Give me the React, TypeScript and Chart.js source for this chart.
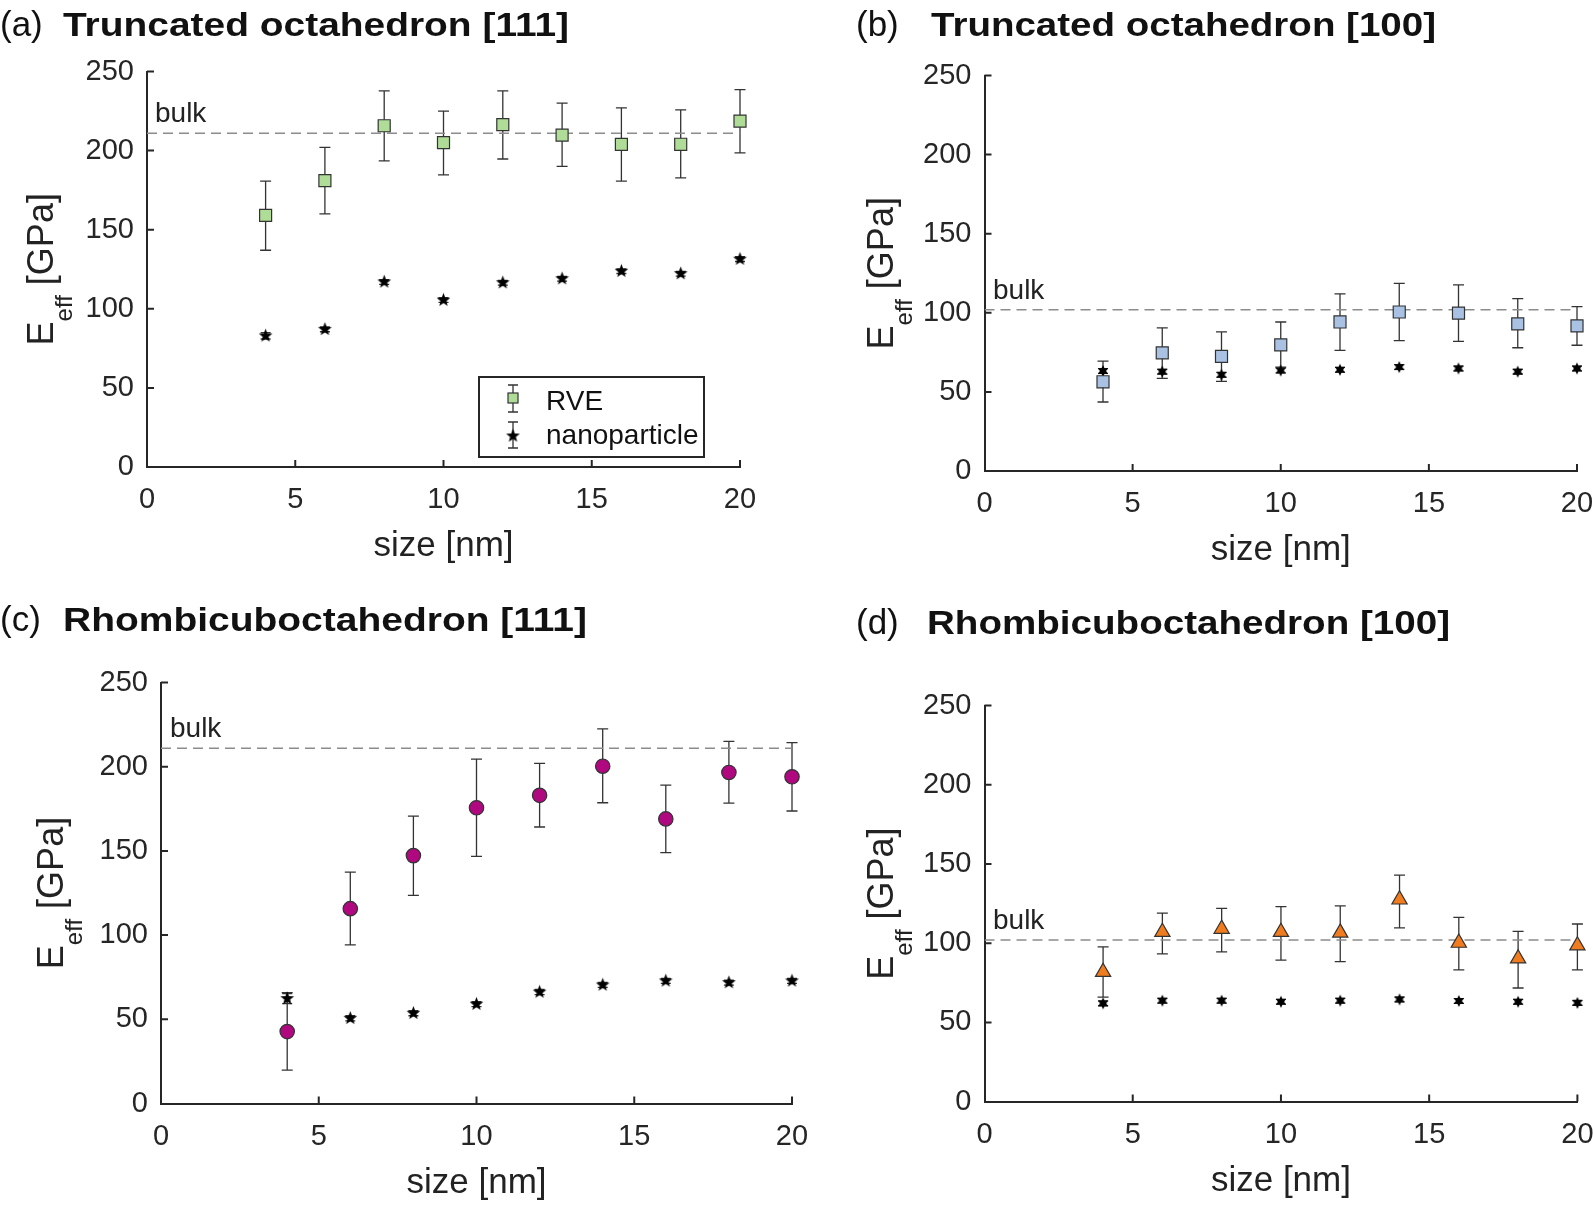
import React, { useEffect, useRef } from "react";
import { Chart, registerables } from "chart.js";

Chart.register(...registerables);

// ---------- data ----------
const sizes = [4, 6, 8, 10, 12, 14, 16, 18, 20];
const xTicks = [0, 5, 10, 15, 20];
const yTicks = [0, 50, 100, 150, 200, 250];

// (a) Truncated octahedron [111]
const aRve = [159, 181, 215.7, 205, 216.4, 209.8, 203.9, 204, 218.6];
const aRveHi = [180.7, 202, 237.8, 225, 237.8, 230, 227, 225.8, 238.5];
const aRveLo = [137, 160, 193.5, 184.7, 194.7, 190, 180.7, 182.7, 198.5];
const aNano = [82.9, 87, 117, 105.5, 116.5, 119, 123.8, 122.2, 131.4];
const aNanoErr = [2, 1.5, 1.5, 1.5, 1.5, 1.5, 1.5, 1.5, 1.5];
const aBulk = 211;

// (b) Truncated octahedron [100]
const bRve = [56.4, 74.7, 72.5, 79.7, 94.2, 100.5, 99.8, 93, 91.7];
const bRveHi = [69.5, 90.5, 88, 94.2, 112, 118.6, 117.7, 108.9, 103.9];
const bRveLo = [43.6, 58.6, 56.7, 65.7, 76.3, 82.4, 82, 77.9, 79.5];
const bNano = [63.2, 62.8, 60.8, 63.5, 64, 65.7, 64.8, 62.8, 64.8];
const bNanoErr = [1.5, 1.5, 1.5, 1.5, 1.5, 1.5, 1.5, 1.5, 1.5];
const bBulk = 102;

// (c) Rhombicuboctahedron [111]
const cRve = [42.7, 115.7, 147.2, 175.6, 183, 200.3, 169, 196.6, 194];
const cRveHi = [65.8, 137.4, 170.7, 204.5, 202, 222.5, 189, 215, 214.3];
const cRveLo = [19.8, 94.2, 123.6, 146.7, 164.2, 178.6, 149, 178.4, 173.7];
const cNano = [62.3, 50.6, 53.6, 59, 66.2, 70.4, 72.8, 71.8, 72.8];
const cNanoErr = [3, 1.5, 1.5, 1.5, 1.5, 1.5, 1.5, 1.5, 1.5];
const cBulk = 211;

// (d) Rhombicuboctahedron [100]
const dRve = [81.8, 107, 109, 107, 106.6, 127.5, 100.2, 90.3, 98.5];
const dRveHi = [97.7, 119, 122, 123, 123.5, 142.9, 116.3, 107.4, 112.1];
const dRveLo = [66, 93.3, 94.5, 89.3, 88.3, 109.6, 83.1, 71.7, 83.1];
const dNano = [62, 63.7, 63.7, 63, 63.7, 64.5, 63.5, 63, 62.3];
const dNanoErr = [1.5, 1.5, 1.5, 1.5, 1.5, 1.5, 1.5, 1.5, 1.5];
const dBulk = 102;

const legendLabels = ["RVE", "nanoparticle"];
const xTitle = "size [nm]";

// ---------- styling / layout ----------
const FONT = '"Liberation Sans", Arial, Helvetica, sans-serif';
const AXIS = "#262626";
const ERR = "#333333";

type Box = { left: number; top: number; width: number; height: number };
type Area = { left: number; top: number; right: number; bottom: number };

type Panel = {
  tag: string;
  title: string;
  rve: number[];
  rveHi: number[];
  rveLo: number[];
  nano: number[];
  nanoErr: number[];
  bulk: number;
  fill: string;
  marker: "rect" | "circle" | "triangle";
  radius: number;
  starPoints: number;
  legend: boolean;
  canvas: Box;
  area: Area; // absolute page coordinates
  tagX: number;
  titleX: number;
  titleW: number;
  titleBase: number;
  yTitleX: number;
  bulkX: number;
};

const panels: Panel[] = [
  {
    tag: "(a)", title: "Truncated octahedron [111]",
    rve: aRve, rveHi: aRveHi, rveLo: aRveLo, nano: aNano, nanoErr: aNanoErr, bulk: aBulk,
    fill: "#afdd98", marker: "rect", radius: 8.5, starPoints: 5, legend: true,
    canvas: { left: 0, top: 0, width: 796, height: 590 },
    area: { left: 147, top: 71.5, right: 740, bottom: 467 },
    tagX: 0, titleX: 63, titleW: 506, titleBase: 36, yTitleX: 53, bulkX: 155,
  },
  {
    tag: "(b)", title: "Truncated octahedron [100]",
    rve: bRve, rveHi: bRveHi, rveLo: bRveLo, nano: bNano, nanoErr: bNanoErr, bulk: bBulk,
    fill: "#a9c2e4", marker: "rect", radius: 8.5, starPoints: 6, legend: false,
    canvas: { left: 796, top: 0, width: 830, height: 590 },
    area: { left: 984.5, top: 75.5, right: 1577, bottom: 471 },
    tagX: 856, titleX: 931, titleW: 505, titleBase: 36, yTitleX: 893, bulkX: 993,
  },
  {
    tag: "(c)", title: "Rhombicuboctahedron [111]",
    rve: cRve, rveHi: cRveHi, rveLo: cRveLo, nano: cNano, nanoErr: cNanoErr, bulk: cBulk,
    fill: "#b0087f", marker: "circle", radius: 7.2, starPoints: 5, legend: false,
    canvas: { left: 0, top: 590, width: 840, height: 616 },
    area: { left: 161, top: 682.5, right: 792, bottom: 1103.5 },
    tagX: 0, titleX: 63, titleW: 524, titleBase: 631, yTitleX: 63, bulkX: 170,
  },
  {
    tag: "(d)", title: "Rhombicuboctahedron [100]",
    rve: dRve, rveHi: dRveHi, rveLo: dRveLo, nano: dNano, nanoErr: dNanoErr, bulk: dBulk,
    fill: "#f07c1e", marker: "triangle", radius: 8.8, starPoints: 6, legend: false,
    canvas: { left: 796, top: 590, width: 830, height: 616 },
    area: { left: 984.5, top: 705.5, right: 1577.4, bottom: 1101.6 },
    tagX: 856, titleX: 927, titleW: 523, titleBase: 634, yTitleX: 893, bulkX: 993,
  },
];

function makeStar(n: number, outer: number, inner: number): HTMLCanvasElement {
  const size = Math.ceil(outer * 2 + 2);
  const c = document.createElement("canvas");
  c.width = size;
  c.height = size;
  const ctx = c.getContext("2d")!;
  ctx.translate(size / 2, size / 2);
  ctx.beginPath();
  for (let i = 0; i < 2 * n; i++) {
    const r = i % 2 === 0 ? outer : inner;
    const a = -Math.PI / 2 + (i * Math.PI) / n;
    ctx.lineTo(r * Math.cos(a), r * Math.sin(a));
  }
  ctx.closePath();
  ctx.fillStyle = "#000";
  ctx.fill();
  return c;
}

function drawErrorBar(ctx: CanvasRenderingContext2D, x: number, y1: number, y2: number, cap: number) {
  ctx.beginPath();
  ctx.moveTo(x, y1);
  ctx.lineTo(x, y2);
  ctx.moveTo(x - cap, y1);
  ctx.lineTo(x + cap, y1);
  ctx.moveTo(x - cap, y2);
  ctx.lineTo(x + cap, y2);
  ctx.stroke();
}

function buildConfig(p: Panel): any {
  const W = p.canvas.width;
  const H = p.canvas.height;
  const ox = p.canvas.left;
  const oy = p.canvas.top;
  const aL = p.area.left - ox;
  const aT = p.area.top - oy;
  const aR = p.area.right - ox;
  const aB = p.area.bottom - oy;
  const star = p.starPoints === 5 ? makeStar(5, 7.2, 3) : makeStar(6, 6, 3.1);

  const errorPlugin = {
    id: "errbars",
    beforeDatasetsDraw(chart: any) {
      const ctx = chart.ctx as CanvasRenderingContext2D;
      const xs = chart.scales.x;
      const ys = chart.scales.y;
      ctx.save();
      ctx.strokeStyle = ERR;
      ctx.lineWidth = 1.3;
      sizes.forEach((s, i) => {
        const px = xs.getPixelForValue(s);
        drawErrorBar(ctx, px, ys.getPixelForValue(p.nano[i] + p.nanoErr[i]), ys.getPixelForValue(p.nano[i] - p.nanoErr[i]), 5);
      });
      sizes.forEach((s, i) => {
        const px = xs.getPixelForValue(s);
        drawErrorBar(ctx, px, ys.getPixelForValue(p.rveHi[i]), ys.getPixelForValue(p.rveLo[i]), 5.5);
      });
      ctx.restore();
    },
  };

  const decorPlugin = {
    id: "decor",
    afterDraw(chart: any) {
      const ctx = chart.ctx as CanvasRenderingContext2D;
      const xs = chart.scales.x;
      const ys = chart.scales.y;
      const ca = chart.chartArea;
      ctx.save();
      // inward ticks
      ctx.strokeStyle = AXIS;
      ctx.lineWidth = 2;
      ctx.beginPath();
      yTicks.forEach((v) => {
        if (v === 0) return;
        const py = ys.getPixelForValue(v);
        ctx.moveTo(ca.left, py);
        ctx.lineTo(ca.left + 7, py);
      });
      xTicks.forEach((v) => {
        if (v === 0) return;
        const px = xs.getPixelForValue(v);
        ctx.moveTo(px, ca.bottom);
        ctx.lineTo(px, ca.bottom - 7);
      });
      ctx.stroke();

      // panel title
      ctx.fillStyle = "#111";
      ctx.textBaseline = "alphabetic";
      ctx.textAlign = "left";
      ctx.font = `35px ${FONT}`;
      ctx.fillText(p.tag, p.tagX - ox, p.titleBase - oy);
      ctx.font = `bold 33px ${FONT}`;
      const tw = ctx.measureText(p.title).width;
      ctx.save();
      ctx.translate(p.titleX - ox, p.titleBase - oy);
      ctx.scale(p.titleW / tw, 1);
      ctx.fillText(p.title, 0, 0);
      ctx.restore();

      // bulk label
      ctx.fillStyle = "#222";
      ctx.font = `28px ${FONT}`;
      ctx.fillText("bulk", p.bulkX - ox, ys.getPixelForValue(p.bulk) - 11);

      // x title
      ctx.font = `35px ${FONT}`;
      ctx.textAlign = "center";
      ctx.fillText(xTitle, (ca.left + ca.right) / 2, ca.bottom + 89);

      // y title: E_eff [GPa]
      ctx.textAlign = "left";
      const big = `36px ${FONT}`;
      const small = `24px ${FONT}`;
      ctx.font = big;
      const wE = ctx.measureText("E").width;
      const wSp = ctx.measureText(" ").width;
      const wG = ctx.measureText("[GPa]").width;
      ctx.font = small;
      const wEff = ctx.measureText("eff").width;
      const total = wE + wEff + wSp + wG;
      ctx.save();
      ctx.translate(p.yTitleX - ox, (ca.top + ca.bottom) / 2);
      ctx.rotate(-Math.PI / 2);
      let cx = -total / 2;
      ctx.font = big;
      ctx.fillText("E", cx, 0);
      cx += wE;
      ctx.font = small;
      ctx.fillText("eff", cx, 19);
      cx += wEff + wSp;
      ctx.font = big;
      ctx.fillText("[GPa]", cx, 0);
      ctx.restore();

      // legend
      if (p.legend) {
        const lx = 479 - ox, ly = 377 - oy;
        ctx.fillStyle = "#fff";
        ctx.fillRect(lx, ly, 225, 80);
        ctx.strokeStyle = AXIS;
        ctx.lineWidth = 2;
        ctx.strokeRect(lx, ly, 225, 80);
        const mx = 513 - ox;
        ctx.strokeStyle = ERR;
        ctx.lineWidth = 1.3;
        drawErrorBar(ctx, mx, 385 - oy, 412 - oy, 5);
        drawErrorBar(ctx, mx, 422 - oy, 448 - oy, 5);
        ctx.fillStyle = p.fill;
        ctx.fillRect(mx - 5, 398 - oy - 5, 10, 10);
        ctx.strokeStyle = "#333";
        ctx.lineWidth = 1.2;
        ctx.strokeRect(mx - 5, 398 - oy - 5, 10, 10);
        ctx.drawImage(star, mx - star.width / 2, 436 - oy - star.height / 2);
        ctx.fillStyle = "#111";
        ctx.font = `28px ${FONT}`;
        ctx.fillText(legendLabels[0], 546 - ox, 409.5 - oy);
        ctx.fillText(legendLabels[1], 546 - ox, 444 - oy);
      }
      ctx.restore();
    },
  };

  const tickFont = { family: FONT, size: 29 };

  return {
    type: "scatter",
    data: {
      datasets: [
        {
          label: legendLabels[0],
          data: sizes.map((s, i) => ({ x: s, y: p.rve[i] })),
          pointStyle: p.marker,
          pointRadius: p.radius,
          pointHoverRadius: p.radius,
          backgroundColor: p.fill,
          borderColor: "#333",
          borderWidth: 1.2,
          order: 1,
          clip: false,
        },
        {
          label: legendLabels[1],
          data: sizes.map((s, i) => ({ x: s, y: p.nano[i] })),
          pointStyle: star,
          pointRadius: 6,
          backgroundColor: "#000",
          borderColor: "#000",
          order: 2,
          clip: false,
        },
        {
          label: "bulk",
          data: [
            { x: xTicks[0], y: p.bulk },
            { x: xTicks[xTicks.length - 1], y: p.bulk },
          ],
          showLine: true,
          pointRadius: 0,
          pointHoverRadius: 0,
          borderColor: "#8c8c8c",
          borderWidth: 1.5,
          borderDash: [10, 6],
          order: 3,
        },
      ],
    },
    options: {
      responsive: false,
      maintainAspectRatio: false,
      animation: false,
      devicePixelRatio: 1,
      events: [],
      layout: { padding: { left: 0, top: aT, right: W - aR, bottom: 0 } },
      plugins: { legend: { display: false }, tooltip: { enabled: false }, title: { display: false } },
      scales: {
        x: {
          type: "linear",
          min: xTicks[0],
          max: xTicks[xTicks.length - 1],
          afterBuildTicks: (s: any) => {
            s.ticks = xTicks.map((v) => ({ value: v }));
          },
          afterFit: (s: any) => {
            s.height = H - aB;
          },
          ticks: { font: tickFont, color: AXIS, padding: 16, maxRotation: 0, autoSkip: false },
          grid: { display: true, drawOnChartArea: false, drawTicks: false },
          border: { display: true, color: AXIS, width: 2 },
        },
        y: {
          type: "linear",
          min: yTicks[0],
          max: yTicks[yTicks.length - 1],
          afterBuildTicks: (s: any) => {
            s.ticks = yTicks.map((v) => ({ value: v }));
          },
          afterFit: (s: any) => {
            s.width = aL;
          },
          ticks: { font: tickFont, color: AXIS, padding: 13, autoSkip: false },
          grid: { display: true, drawOnChartArea: false, drawTicks: false },
          border: { display: true, color: AXIS, width: 2 },
        },
      },
    },
    plugins: [errorPlugin, decorPlugin],
  };
}

function PanelChart({ p }: { p: Panel }) {
  const ref = useRef<HTMLCanvasElement>(null);
  useEffect(() => {
    const chart = new Chart(ref.current!, buildConfig(p));
    return () => chart.destroy();
  }, [p]);
  return (
    <canvas
      ref={ref}
      width={p.canvas.width}
      height={p.canvas.height}
      style={{
        position: "absolute",
        left: p.canvas.left,
        top: p.canvas.top,
        width: p.canvas.width,
        height: p.canvas.height,
      }}
    />
  );
}

export default function App() {
  return (
    <div
      style={{
        position: "fixed",
        left: 0,
        top: 0,
        width: 1593,
        height: 1206,
        overflow: "hidden",
        background: "#fff",
      }}
    >
      {panels.map((p) => (
        <PanelChart key={p.tag} p={p} />
      ))}
    </div>
  );
}
